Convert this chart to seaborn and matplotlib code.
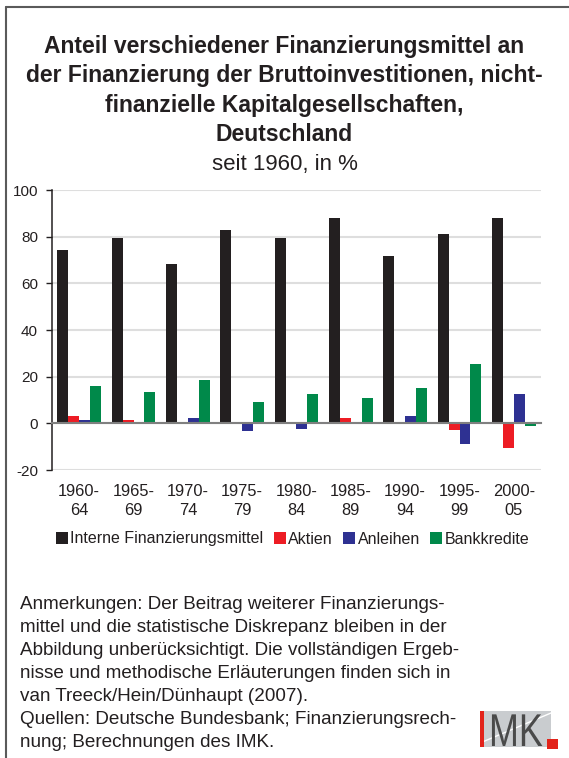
import numpy as np
import pandas as pd
import matplotlib.pyplot as plt
import seaborn as sns
from matplotlib.patches import Patch, Rectangle, PathPatch
from matplotlib.lines import Line2D
from matplotlib.textpath import TextPath
from matplotlib.font_manager import FontProperties
from matplotlib.transforms import Affine2D

periods = ['1960-\n64', '1965-\n69', '1970-\n74', '1975-\n79', '1980-\n84',
           '1985-\n89', '1990-\n94', '1995-\n99', '2000-\n05']
series = ['Interne Finanzierungsmittel', 'Aktien', 'Anleihen', 'Bankkredite']
intern = [74.3, 79.4, 68.3, 82.9, 79.4, 88.0, 71.7, 81.1, 88.0]
aktien = [3.2, 1.5, 0.6, 0.6, 0.0, 2.4, 0.0, -2.9, -10.7]
anleihen = [1.5, 0.0, 2.4, -3.2, -2.4, 0.6, 3.2, -8.9, 12.6]
bankkredite = [16.1, 13.5, 18.6, 9.2, 12.6, 10.9, 15.2, 25.6, -1.2]
colors = ['#231f20', '#ed1c24', '#2e3192', '#00894a']

title_lines = ['Anteil verschiedener Finanzierungsmittel an',
               'der Finanzierung der Bruttoinvestitionen, nicht-',
               'finanzielle Kapitalgesellschaften,',
               'Deutschland']
subtitle = 'seit 1960, in %'
notes = ['Anmerkungen: Der Beitrag weiterer Finanzierungs-',
         'mittel und die statistische Diskrepanz bleiben in der',
         'Abbildung unberücksichtigt. Die vollständigen Ergeb-',
         'nisse und methodische Erläuterungen finden sich in',
         'van Treeck/Hein/Dünhaupt (2007).',
         'Quellen: Deutsche Bundesbank; Finanzierungsrech-',
         'nung; Berechnungen des IMK.']

df = pd.DataFrame({'period': periods * 4,
                   'series': np.repeat(series, len(periods)),
                   'value': intern + aktien + anleihen + bankkredite})

sns.set_theme(style='white')
plt.rcParams['font.family'] = ['Liberation Sans', 'DejaVu Sans']
plt.rcParams['axes.unicode_minus'] = False

W, H = 569, 758
fig = plt.figure(figsize=(W / 100, H / 100), dpi=100)


def fx(x):
    return x / W


def fy(y):
    return 1 - y / H


ax = fig.add_axes([fx(52), fy(470), (541 - 52) / W, (470 - 190) / H])
sns.barplot(data=df, x='period', y='value', hue='series', palette=colors,
            saturation=1, width=0.8, legend=False, ax=ax, linewidth=0)

ymin, ymax = -20, 100
ax.set_ylim(ymin, ymax)
ax.set_xlim(-0.5, len(periods) - 0.5)
ax.set_yticks(range(-20, 101, 20))
ax.yaxis.grid(True, color='#dedede', lw=1.5)
ax.set_axisbelow(True)
ax.set_xlabel('')
ax.set_ylabel('')

for s in ['top', 'right']:
    ax.spines[s].set_visible(False)
ax.spines['left'].set_color('#231f20')
ax.spines['left'].set_linewidth(1.1)
ax.spines['bottom'].set_position(('data', 0))
ax.spines['bottom'].set_color('#808080')
ax.spines['bottom'].set_linewidth(1.5)
ax.spines['bottom'].set_zorder(3)

ax.set_xticks(np.arange(-0.5, len(periods), 1), minor=True)
ax.tick_params(axis='x', which='minor', length=4, width=1, color='#231f20',
               direction='out')
# labels sit below the plot area, not under the zero line
pad_pt = ((0 - ymin) / (ymax - ymin) * 280 + 14) * 0.72
ax.tick_params(axis='x', which='major', length=0, pad=pad_pt, labelsize=11.8,
               labelcolor='#231f20')
for lab in ax.get_xticklabels():
    lab.set_linespacing(1.3)
ax.tick_params(axis='y', length=4, width=1, color='#231f20', direction='out',
               pad=6, labelsize=11, labelcolor='#231f20', left=True)

handles = [Patch(facecolor=c, edgecolor='none') for c in colors]
fig.legend(handles, series, loc='center left', bbox_to_anchor=(fx(56), fy(539)),
           ncol=4, frameon=False, fontsize=11.5, handlelength=0.75,
           handleheight=0.75, handletextpad=0.15, columnspacing=0.65,
           borderpad=0, borderaxespad=0, labelcolor='#231f20')

# title block
for i, line in enumerate(title_lines):
    fig.text(0.5, fy(53 + 29.3 * i), line, ha='center', va='baseline',
             fontsize=16.5, fontweight='bold', color='#231f20')
fig.text(0.5, fy(170), subtitle, ha='center', va='baseline', fontsize=16,
         color='#231f20')

# notes
for i, line in enumerate(notes):
    fig.text(fx(20), fy(609 + 23.0 * i), line, ha='left', va='baseline',
             fontsize=13.6, color='#231f20')

# frame
fig.add_artist(Line2D([fx(6), fx(6)], [fy(7), 0], color='#5a5a5a', lw=1.5))
fig.add_artist(Line2D([fx(6), 1], [fy(7), fy(7)], color='#5a5a5a', lw=1.5))

# IMK logo
fig.add_artist(Rectangle((fx(480), fy(747)), (551 - 480) / W, 36 / H,
                         facecolor='#c9cccf', edgecolor='none', zorder=1))
fig.add_artist(Line2D([fx(480), fx(551)], [fy(743), fy(713)], color='white',
                      lw=1, zorder=2))
fig.add_artist(Rectangle((fx(480), fy(747)), 3.5 / W, 36 / H,
                         facecolor='#e2231a', edgecolor='none', zorder=3))
mk = TextPath((0, 0), 'MK', size=46, prop=FontProperties(family='Liberation Sans'))
fig.add_artist(PathPatch(mk, facecolor='#4a4a4a', edgecolor='none', zorder=3,
                         transform=Affine2D().scale(0.78, 1.0).translate(489, H - 746)))
fig.add_artist(Rectangle((fx(547), fy(749)), 11 / W, 10 / H,
                         facecolor='#e2231a', edgecolor='none', zorder=4))

fig.savefig('out.png', dpi=100)
